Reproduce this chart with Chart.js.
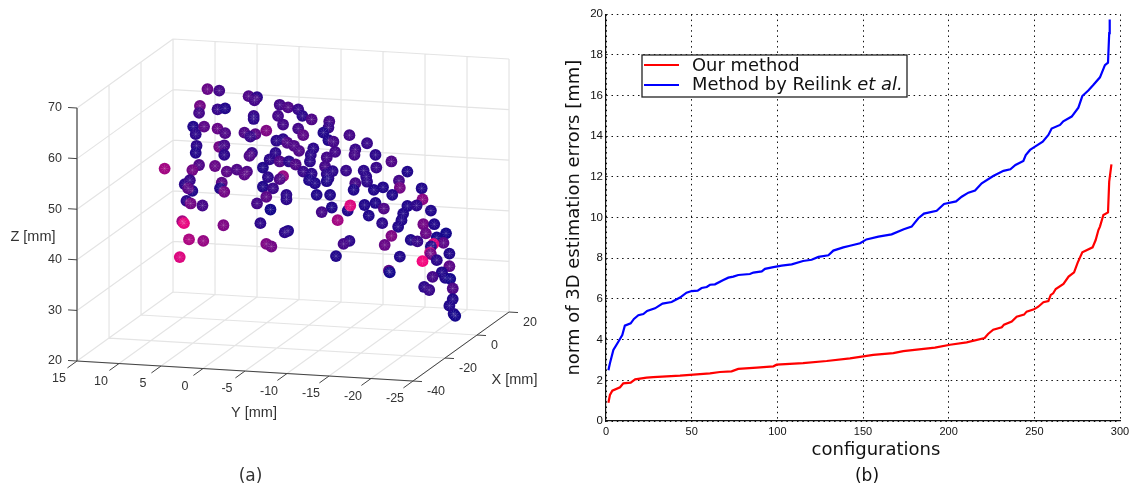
<!DOCTYPE html>
<html>
<head>
<meta charset="utf-8">
<title>3D positions and estimation errors</title>
<script src="https://cdn.jsdelivr.net/npm/chart.js@4/dist/chart.umd.min.js"></script>
<style>
    html, body { margin: 0; background: #fff; overflow: hidden; }
    canvas { position: absolute; top: 0; }
    #grafico3d { left: 0; }
    #graficoErros { left: 560px; }
</style>
</head>
<body>
<canvas id="grafico3d" width="560" height="488"></canvas>
<canvas id="graficoErros" width="570" height="488"></canvas>
<script>
// (a) positions as seen against the back wall of the 3D box, in mm
const seenY = [10.9,9.5,6.0,5.0,5.3,11.8,11.9,9.7,8.8,2.3,5.4,5.4,2.5,12.6,11.3,9.7,8.8,12.3,6.5,5.2,5.8,3.9,2.7,12.2,12.3,9.5,8.9,8.9,5.6,5.9,11.9,12.7,10.0,16.0,8.6,7.4,6.2,6.5,4.3,3.5,2.8,13.6,13.0,12.7,13.2,9.2,9.4,8.9,3.7,4.3,3.1,3.9,5.0,3.4,13.4,12.9,11.5,13.9,13.7,9.0,4.6,13.1,11.4,3.9,3.3,14.2,
    1.3,0.1,-0.4,-1.5,1.9,0.1,-0.5,-3.6,-3.5,-2.9,-3.5,-4.1,-6.0,-8.1,1.9,1.4,0.6,0,-1.7,-1.4,-4.3,-6.7,-6.6,-9.1,-11.0,-9.2,-3.3,-1.3,2.3,1.2,0.4,-3.1,-4.0,-5.6,-7.7,-12.9,-0.5,-1.5,-3.3,-3.5,-3.3,-8.0,-8.1,-1.2,-1.9,1.9,2.3,-11.9,-12.0,-6.7,-6.5,-8.9,-10.0,-11.1,-14.6,-14.7,-2.1,-3.7,1.5,1.5,-3.9,-2.7,-5.8,-6.1,-4.6,-7.8,-9.1,-8.3,-10.1,-9.9,-12.9,-12.4,-12.2,-14.0,-15.7,-11.8,-14.8,-16.1,-15.1,-11.0,-10.2,-13.3,-14.1,-17.5,-16.4,-17.2,-16.0,-15.7,1.3,1.7,-6.0,-5.3,
    -4.4,-12.0,-17.9,-15.6,-15.7,-16.4,-14.7,-17.9,-17.0,-10.7,-10.8,-15.9,-17.4,-18.0,-14.9,-15.5,-18.3,-18.3,-17.9,-18.4,-18.6];
const seenZ = [60.1,59.8,58.7,58.5,57.9,56.8,55.4,56.1,56.3,57.0,54.8,54.2,54.8,52.7,52.7,52.3,51.4,51.2,51.5,51.2,50.7,51.9,49.9,48.9,47.5,48.7,49.0,47.1,47.5,46.9,45.1,44.1,44.9,44.4,43.8,44.2,43.8,43.2,44.6,46.2,47.5,41.3,42.1,40.0,40.5,41.6,40.5,39.8,42.7,40.8,40.5,38.8,37.5,36.3,38.0,37.5,37.1,34.0,33.6,33.2,33.6,30.4,30.1,29.5,29.0,26.9,
    56.5,56.1,54.8,54.1,53.1,52.3,51.0,53.7,52.5,51.5,50.0,49.7,51.0,49.4,50.2,49.5,48.9,47.9,48.4,47.1,47.7,48.2,47.1,47.1,45.8,44.6,46.6,45.8,45.8,45.8,45.2,44.8,43.9,44.0,44.0,43.8,43.8,43.4,43.3,42.5,41.9,42.8,41.8,42.1,41.5,42.9,42.3,42.0,40.6,41.5,40.2,40.2,40.7,39.2,40.5,38.3,39.2,39.2,39.2,38.3,36.7,35.8,36.1,37.1,34.2,37.2,37.6,35.1,36.5,33.6,37.0,35.5,34.2,37.1,36.1,32.9,33.4,33.4,31.6,31.1,29.3,30.3,30.0,31.6,30.8,29.7,29.5,29.0,32.1,31.8,30.1,29.5,
    27.1,27.0,27.6,27.8,27.5,26.3,26.1,25.1,23.9,24.2,23.9,23.0,22.8,22.6,21.0,20.4,20.7,18.6,17.3,15.7,15.3];
// 0 = small error (navy), 1 = large error (pink)
const seenErr = [.35,.2,.25,.1,.2,.4,.2,.15,.05,.2,.15,.1,.2,.05,.3,.35,.25,.1,.25,.3,.15,.45,.1,.1,.05,.4,.2,.1,.15,.25,.25,.4,.35,.6,.3,.25,.25,.3,.05,.1,.1,.1,.15,.05,.3,.3,.05,.4,.1,.05,.15,.3,.2,0,.1,.4,.2,.6,.9,.45,.1,.65,.55,.45,.4,.85,
    .25,.15,.1,.25,.2,.2,.3,.2,.15,.05,.05,.2,.2,.15,.1,.25,.25,.25,.1,.1,.2,.15,.2,.1,.25,.15,.2,.1,.25,.1,.25,.2,.1,.15,.1,.05,.15,.1,.1,.1,.05,.1,.1,.05,.05,.55,.25,.2,.4,.2,.05,.05,.05,.05,.05,.5,.05,.05,.1,.1,.05,.2,.05,.85,.6,.05,.05,.05,.25,.1,.05,.05,.05,.1,.05,.05,.4,.05,.35,.45,.35,.05,.15,0,0,.3,.85,.05,.05,.1,.1,.2,
    .05,.05,.05,.7,.4,.1,.95,.3,.05,.3,0,.2,.05,0,.1,.15,.25,.05,.05,.05,0];

const ticksX = [-40, -20, 0, 20];
const ticksY = [15, 10, 5, 0, -5, -10, -15, -20, -25];
const ticksZ = [20, 30, 40, 50, 60, 70];

// (b) sorted errors
const configRed = [1.4,2.3,3.7,8.2,10.1,14.4,17,23.7,27.6,43.2,51,60.7,66.5,73.3,77.2,88,97.7,99.6,115,128.8,142.4,156,167.7,173.5,192,200.8,210.5,221,223,226,231,232.3,236.8,239.7,244,245.5,249.8,252.3,255.3,258.2,259.6,261,262.5,267,270,273.2,275.3,278,284,285.8,287.4,288.3,290.3,293,293.7,295];
const errRed = [0.9,1.28,1.49,1.66,1.85,1.89,2.05,2.13,2.16,2.23,2.28,2.34,2.41,2.44,2.56,2.62,2.69,2.77,2.85,2.95,3.08,3.25,3.34,3.44,3.61,3.75,3.87,4.08,4.28,4.49,4.61,4.74,4.89,5.13,5.23,5.38,5.49,5.62,5.84,5.9,6.2,6.28,6.49,6.74,7.1,7.31,7.79,8.3,8.54,8.9,9.39,9.56,10.13,10.26,11.77,12.62];
const configBlue = [1.4,2.3,4.3,7.2,9.5,11,14.4,16.3,18.9,21.8,24,28.6,33,38.3,43.2,47,50,53.5,55.8,58.8,60.7,63.6,68.5,71.4,74.3,77.2,84,86,90.9,92.8,97.7,102.5,108.4,115,120,124,129.8,132.7,138.5,142.4,148.3,152,159,166.7,173.8,178.4,182.3,185.6,193,197.3,204.3,207.6,211.5,215.4,219.3,226,232,236,239,243.6,245,247.5,250.4,254.9,258.2,260.1,265,266.9,271.8,275.7,278,281.5,284.4,288.3,291.2,293,293.7,294];
const errBlue = [2.5,2.84,3.49,3.9,4.23,4.69,4.8,5.02,5.2,5.26,5.41,5.54,5.77,5.85,6.07,6.31,6.39,6.41,6.54,6.59,6.7,6.72,6.93,7.05,7.1,7.18,7.23,7.3,7.36,7.48,7.57,7.64,7.7,7.87,7.93,8.07,8.15,8.38,8.54,8.62,8.74,8.93,9.07,9.18,9.43,9.56,9.97,10.2,10.34,10.67,10.8,11.03,11.23,11.33,11.69,12.05,12.3,12.38,12.59,12.79,13.08,13.33,13.49,13.74,14.07,14.38,14.56,14.74,14.97,15.41,15.98,16.25,16.52,16.9,17.5,17.62,19.07,19.75];

const sansFont = '"Liberation Sans", Arial, sans-serif';
const dejaFont = '"DejaVu Sans", sans-serif';

// fixed view of the box: takes x,y,z in mm and gives the position on the flat plane
function project(x, y, z) {
    return {
        x: y + (20 - x) * 0.1905,
        y: z - (15 - y) * 0.0988 - (20 - x) * 0.2273
    };
}

function boxLines() {
    const pts = [];
    const seg = (a, b) => pts.push(project(...a), project(...b), { x: null, y: null });
    ticksY.forEach(y => {
        seg([20, y, 20], [20, y, 70]);   // back wall
        seg([-40, y, 20], [20, y, 20]);  // floor
    });
    ticksZ.forEach(z => {
        seg([20, 15, z], [20, -25, z]);  // back wall
        seg([-40, 15, z], [20, 15, z]);  // left wall
    });
    ticksX.forEach(x => {
        seg([x, 15, 20], [x, -25, 20]);  // floor
        seg([x, 15, 20], [x, 15, 70]);   // left wall
    });
    return pts;
}

function axisLine(a, b) {
    return [project(...a), project(...b)];
}

function errColor(c, alpha) {
    return `rgba(${Math.round(22 + 233 * c)},8,${Math.round(140 - 15 * c)},${alpha})`;
}

const seenPoints = seenY.map((y, i) => ({ x: y, y: seenZ[i] }));

function lineSet(data, color, width, order) {
    return { type: 'line', data, borderColor: color, borderWidth: width, pointRadius: 0, order, spanGaps: false, tension: 0 };
}

const tickMarks = [];
ticksZ.forEach(z => tickMarks.push(project(-40, 15, z), project(-40, 16.07, z), { x: null, y: null }));
ticksY.forEach(y => tickMarks.push(project(-40, y, 20), project(-46, y, 20), { x: null, y: null }));
ticksX.forEach(x => tickMarks.push(project(x, -25, 20), project(x, -26.07, 20), { x: null, y: null }));

const labels3d = {
    id: 'labels3d',
    afterDraw(chart) {
        const c = chart.ctx, sx = chart.scales.x, sy = chart.scales.y;
        const at = (p) => [sx.getPixelForValue(p.x), sy.getPixelForValue(p.y)];
        c.save();
        c.textBaseline = 'middle';
        c.fillStyle = '#333';
        c.font = '12.5px ' + sansFont;
        c.textAlign = 'right';
        ticksZ.forEach(z => { const [px, py] = at(project(-40, 15, z)); c.fillText(z, px - 15, py); });
        c.textAlign = 'center';
        ticksY.forEach(y => { const [px, py] = at(project(-40, y, 20)); c.fillText(y, px - 18, py + 18); });
        c.textAlign = 'left';
        ticksX.forEach(x => { const [px, py] = at(project(x, -25, 20)); c.fillText(x, px + 14, py + 10.5); });
        c.font = '14.5px ' + sansFont;
        c.textAlign = 'center';
        c.fillText('Z [mm]', 33, 237);
        c.fillText('Y [mm]', 254, 413);
        c.fillText('X [mm]', 514.5, 380);
        c.font = '17px ' + dejaFont;
        c.fillText('(a)', 250.5, 477);
        c.restore();
    }
};

const grafico3d = new Chart(document.getElementById('grafico3d').getContext('2d'), {
    type: 'scatter',
    data: {
        datasets: [
            { data: seenPoints, pointStyle: 'star', pointRadius: 4, pointBorderWidth: 0.8, pointBorderColor: 'rgba(255,255,255,0.16)', pointBackgroundColor: 'transparent', order: 0 },
            { data: seenPoints, pointRadius: 5.9, pointBorderWidth: 0, pointBackgroundColor: ctx => errColor(seenErr[ctx.dataIndex], 1), order: 1 },
            lineSet(tickMarks, '#444', 1, 2),
            lineSet(axisLine([-40, 15, 20], [-40, -25, 20]), '#444', 1, 2),
            lineSet(axisLine([-40, -25, 20], [20, -25, 20]), '#444', 1, 2),
            lineSet(axisLine([-40, 15, 20], [-40, 15, 70]), '#8a8a8a', 2, 2),
            lineSet(boxLines(), '#e4e4e4', 1.2, 3)
        ]
    },
    options: {
        responsive: false,
        animation: false,
        clip: false,
        layout: { autoPadding: false, padding: 0 },
        plugins: { legend: { display: false }, tooltip: { enabled: false } },
        scales: {
            x: { type: 'linear', display: false, reverse: true, min: -31.07, max: 35.6 },
            y: { type: 'linear', display: false, min: -18.73, max: 77.71 }
        }
    },
    plugins: [labels3d]
});

const labelsErros = {
    id: 'labelsErros',
    afterDraw(chart) {
        const c = chart.ctx;
        c.save();
        // legend box
        c.fillStyle = '#fff';
        c.strokeStyle = '#222';
        c.lineWidth = 1.3;
        c.fillRect(82, 55, 265, 42);
        c.strokeRect(82, 55, 265, 42);
        c.lineWidth = 2;
        c.strokeStyle = '#ff0000';
        c.beginPath(); c.moveTo(84, 65); c.lineTo(119, 65); c.stroke();
        c.strokeStyle = '#0000ff';
        c.beginPath(); c.moveTo(84, 85); c.lineTo(119, 85); c.stroke();
        c.fillStyle = '#111';
        c.textBaseline = 'middle';
        c.textAlign = 'left';
        c.font = '17.9px ' + dejaFont;
        c.fillText('Our method', 132, 66.5);
        const prefix = 'Method by Reilink ';
        c.fillText(prefix, 132, 85);
        const w = c.measureText(prefix).width;
        c.font = 'italic 17.9px ' + dejaFont;
        c.fillText('et al.', 132 + w, 85);
        // titles
        c.textAlign = 'center';
        c.font = '18px ' + dejaFont;
        c.fillText('configurations', 316, 450);
        c.font = '17px ' + dejaFont;
        c.fillText('(b)', 307, 477);
        c.restore();
    }
};

const graficoErros = new Chart(document.getElementById('graficoErros').getContext('2d'), {
    type: 'scatter',
    data: {
        datasets: [
            { label: 'Our method', data: configRed.map((x, i) => ({ x, y: errRed[i] })), showLine: true, borderColor: '#ff0000', borderWidth: 2.2, pointRadius: 0, tension: 0 },
            { label: 'Method by Reilink et al.', data: configBlue.map((x, i) => ({ x, y: errBlue[i] })), showLine: true, borderColor: '#0000ff', borderWidth: 2.2, pointRadius: 0, tension: 0 }
        ]
    },
    options: {
        responsive: false,
        animation: false,
        layout: { autoPadding: false, padding: { top: 14.3, right: 10, bottom: 23, left: 0 } },
        plugins: { legend: { display: false }, tooltip: { enabled: false } },
        scales: {
            x: {
                type: 'linear', min: 0, max: 300,
                afterFit: s => { s.height = 44; s.paddingRight = 0; },
                grid: { color: '#111', lineWidth: 1, drawTicks: false },
                border: { display: true, color: '#111', width: 1.2, dash: [1.5, 3.8] },
                ticks: { stepSize: 50, maxRotation: 0, padding: 4, color: '#111', font: { family: sansFont, size: 11 } }
            },
            y: {
                type: 'linear', min: 0, max: 20,
                afterFit: s => { s.width = 46; },
                grid: { color: '#111', lineWidth: 1, drawTicks: false },
                border: { display: true, color: '#111', width: 1.2, dash: [1.5, 3.8] },
                ticks: { stepSize: 2, padding: 3, color: '#111', font: { family: sansFont, size: 11.5 } },
                title: {
                    display: true,
                    text: 'norm of 3D estimation errors [mm]',
                    color: '#111',
                    font: { family: dejaFont, size: 18 },
                    padding: { top: 4, bottom: 0 }
                }
            }
        }
    },
    plugins: [labelsErros]
});
</script>
</body>
</html>
